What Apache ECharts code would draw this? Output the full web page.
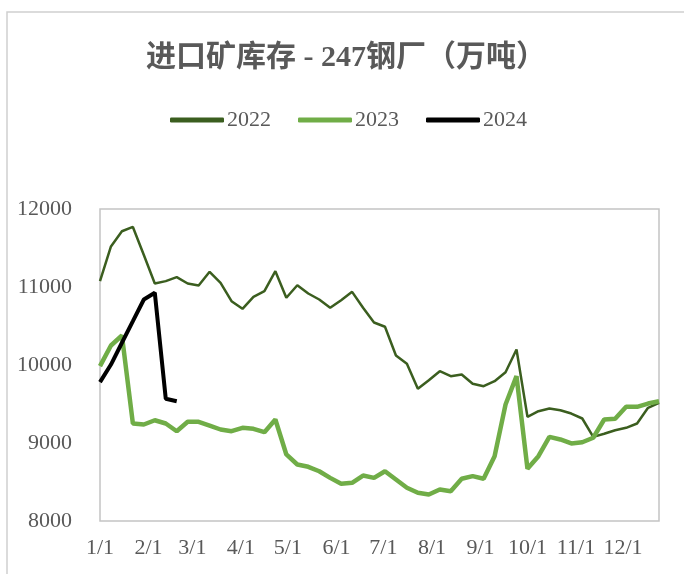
<!DOCTYPE html>
<html>
<head>
<meta charset="utf-8">
<script src="https://cdn.jsdelivr.net/npm/echarts@6/dist/echarts.min.js"></script>
<style>
  html, body { margin: 0; padding: 0; background: #fff; }
  #main { width: 684px; height: 574px; }
</style>
</head>
<body>
<div id="main"></div>
<script>
// weekly readings, week 0 = 1/1
var y2022 = [11075, 11520, 11715, 11770, 11410, 11045, 11075, 11126, 11045, 11020,
  11195, 11053, 10818, 10720, 10874, 10946, 11203, 10862, 11023, 10917,
  10840, 10733, 10831, 10938, 10733, 10545, 10490, 10122, 10015, 9695,
  9805, 9921, 9857, 9878, 9759, 9728, 9792, 9908, 10199, 9336,
  9408, 9442, 9420, 9378, 9314, 9079, 9118, 9164, 9195, 9250,
  9451, 9515];
var y2023 = [9985, 10250, 10378, 9250, 9237, 9292, 9250, 9151, 9272, 9272,
  9224, 9173, 9151, 9195, 9182, 9139, 9301, 8853, 8724, 8695,
  8638, 8553, 8477, 8490, 8583, 8553, 8638, 8532, 8426, 8362,
  8340, 8404, 8382, 8541, 8575, 8541, 8831, 9494, 9857, 8669,
  8831, 9079, 9045, 8994, 9010, 9067, 9301, 9310, 9464, 9464,
  9506, 9535];
var y2024 = [9780, 10006, 10285, 10562, 10840, 10926, 9567, 9535];

var monthDays = [31, 28, 31, 30, 31, 30, 31, 31, 30, 31, 30, 31];
var lastDay = 357;
var yTicks = { min: 8000, max: 12000, step: 1000 };

// day-by-day categories, only month starts get a label
var days = [];
for (var m = 0; m < 12; m++) {
  for (var d = 1; d <= monthDays[m]; d++) {
    if (days.length <= lastDay) days.push((m + 1) + "/" + d);
  }
}

function weekly(arr) {
  return arr.map(function(v, i) { return [i * 7, v]; });
}

var font = "'Liberation Serif', 'Noto Sans CJK SC', serif";
var grey = "#595959";

var chart = echarts.init(document.getElementById("main"));
chart.setOption({
  backgroundColor: "#fff",
  animation: false,
  title: {
    text: "进口矿库存 - 247钢厂（万吨）",
    left: 341,
    textAlign: "center",
    top: 38,
    textStyle: {
      fontFamily: font,
      fontSize: 30,
      fontWeight: "bold",
      color: grey
    }
  },
  legend: {
    left: 165,
    top: 104,
    itemWidth: 54,
    itemHeight: 5,
    itemGap: 27,
    icon: "roundRect",
    textStyle: { fontFamily: font, fontSize: 22, color: grey, padding: [0, 0, 0, -2] },
    data: ["2022", "2023", "2024"]
  },
  graphic: [
    {
      type: "rect",
      shape: { x: 7, y: 12, width: 700, height: 600 },
      style: { fill: "none", stroke: "#d0d0d0", lineWidth: 1.5 },
      silent: true
    }
  ],
  grid: {
    left: 100,
    right: 25,
    top: 209,
    bottom: 53,
    show: true,
    borderColor: "#c4c4c4",
    borderWidth: 1.5,
    backgroundColor: "transparent"
  },
  xAxis: {
    type: "category",
    data: days,
    boundaryGap: false,
    axisLine: { show: false },
    axisTick: { show: false },
    splitLine: { show: false },
    axisLabel: {
      interval: function(idx, val) { return /\/1$/.test(val); },
      color: grey,
      fontFamily: font,
      fontSize: 22,
      margin: 16
    }
  },
  yAxis: {
    type: "value",
    min: yTicks.min,
    max: yTicks.max,
    interval: yTicks.step,
    axisLine: { show: false },
    axisTick: { show: false },
    splitLine: { show: false },
    axisLabel: {
      color: grey,
      fontFamily: font,
      fontSize: 22,
      margin: 28,
      formatter: function(v) { return String(v); }
    }
  },
  series: [
    {
      name: "2022",
      type: "line",
      data: weekly(y2022),
      showSymbol: false,
      symbol: "none",
      color: "#3b5e1f",
      lineStyle: { width: 2.5, color: "#3b5e1f" },
      z: 2
    },
    {
      name: "2023",
      type: "line",
      data: weekly(y2023),
      showSymbol: false,
      symbol: "none",
      color: "#70ad47",
      lineStyle: { width: 4.5, color: "#70ad47" },
      z: 3
    },
    {
      name: "2024",
      type: "line",
      data: weekly(y2024),
      showSymbol: false,
      symbol: "none",
      color: "#000",
      lineStyle: { width: 4, color: "#000" },
      z: 4
    }
  ]
});
</script>
</body>
</html>
